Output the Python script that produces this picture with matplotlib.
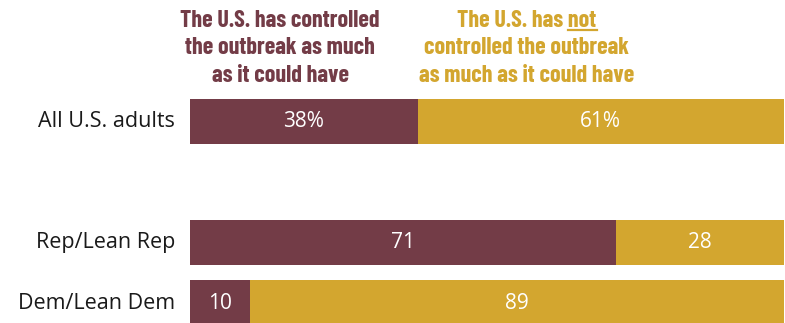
import matplotlib
matplotlib.use("Agg")
import matplotlib.pyplot as plt
import matplotlib.transforms as mtransforms

# Survey results: share saying the U.S. has / has not controlled the outbreak
groups = ["All U.S. adults", "Rep/Lean Rep", "Dem/Lean Dem"]
positions = [0, 2, 3]
controlled = [38, 71, 10]
not_controlled = [61, 28, 89]
value_labels_controlled = ["38%", "71", "10"]
value_labels_not = ["61%", "28", "89"]

MAROON = "#733C47"
GOLD = "#D3A62F"

W, H = 785, 323
fig = plt.figure(figsize=(W / 100, H / 100), dpi=100)

def px_x(x):
    return x / W

def px_y(y):
    return 1 - y / H

# Axes: x from 190px to 785px, y spans 90px..323px
ax = fig.add_axes([px_x(190), 0, px_x(785 - 190), px_y(90)])
ax.set_xlim(0, 99.2)
ax.set_ylim(3.33, -0.52)
ax.axis("off")

label_font = ["Open Sans", "Liberation Sans", "DejaVu Sans"]
head_font = ["Barlow Condensed", "Liberation Sans", "DejaVu Sans"]
LABEL_SIZE = 15.5
VALUE_SIZE = 15
HEAD_SIZE = 17.3

h = 0.745
ax.barh(positions, controlled, height=h, color=MAROON, edgecolor="none")
ax.barh(positions, not_controlled, left=controlled, height=h, color=GOLD, edgecolor="none")

label_tf = mtransforms.blended_transform_factory(fig.transFigure, ax.transData)
for y, c, n, lc, ln, g in zip(positions, controlled, not_controlled,
                              value_labels_controlled, value_labels_not, groups):
    ax.text(c / 2, y, lc, ha="center", va="center", color="white",
            fontsize=VALUE_SIZE, family=label_font)
    ax.text(c + n / 2, y, ln, ha="center", va="center", color="white",
            fontsize=VALUE_SIZE, family=label_font)
    fig.text(px_x(175), y, g, ha="right", va="center", fontsize=LABEL_SIZE,
             family=label_font, color="#1a1a1a", transform=label_tf)

# Column headers
left_lines = ["The U.S. has controlled", "the outbreak as much", "as it could have"]
right_lines = ["The U.S. has not", "controlled the outbreak", "as much as it could have"]
baselines = [27, 54.5, 82]

for txt, yb in zip(left_lines, baselines):
    fig.text(px_x(280), px_y(yb), txt, ha="center", va="baseline", fontsize=HEAD_SIZE,
             fontweight="bold", family=head_font, color=MAROON)

right_texts = []
for txt, yb in zip(right_lines, baselines):
    t = fig.text(px_x(527), px_y(yb), txt, ha="center", va="baseline", fontsize=HEAD_SIZE,
                 fontweight="bold", family=head_font, color=GOLD)
    right_texts.append(t)

# Underline the word "not" in the first right-hand header line
fig.canvas.draw()
renderer = fig.canvas.get_renderer()
first = right_texts[0]
bb_full = first.get_window_extent(renderer)
probe = fig.text(0, 0, "not", fontsize=HEAD_SIZE, fontweight="bold", family=head_font)
bb_not = probe.get_window_extent(renderer)
probe.remove()
x1 = bb_full.x1
x0 = x1 - bb_not.width
y_line = (H - (baselines[0] + 2.5)) / H
fig.add_artist(plt.Line2D([x0 / W, x1 / W], [y_line, y_line], color=GOLD, lw=1.6,
                          transform=fig.transFigure))

fig.savefig("out.png", dpi=100)
